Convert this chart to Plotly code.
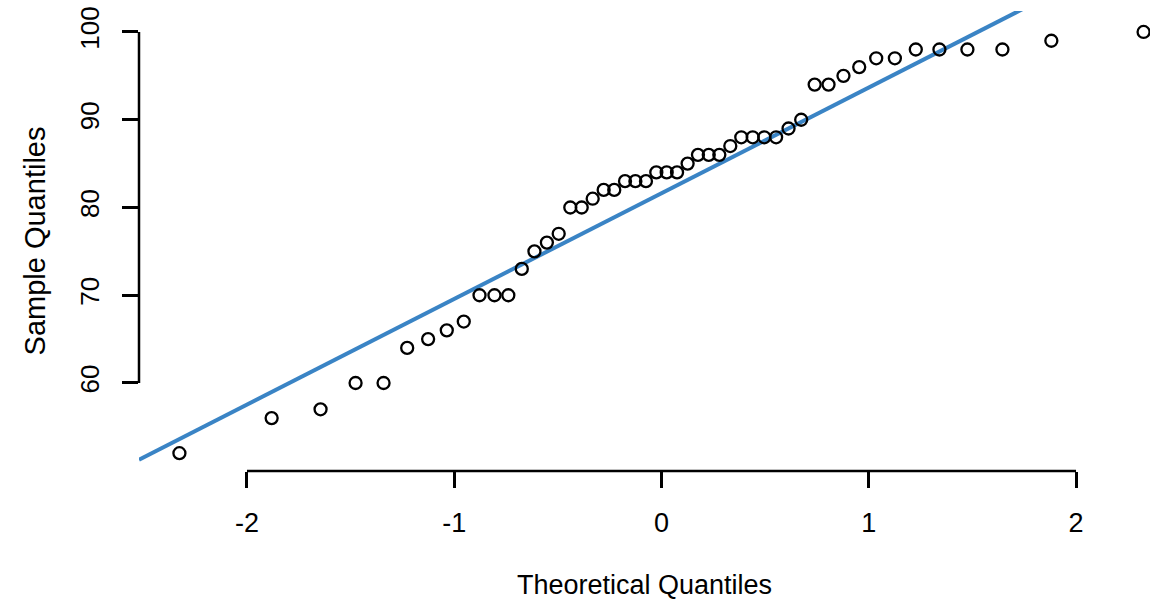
import numpy as np
import plotly.graph_objects as go

# Theoretical quantiles (read from the x positions of the points)
theoretical = [-2.326, -1.881, -1.645, -1.476, -1.341, -1.227, -1.126, -1.036, -0.954, -0.878,
               -0.806, -0.739, -0.674, -0.613, -0.553, -0.496, -0.440, -0.385, -0.332, -0.279,
               -0.228, -0.176, -0.126, -0.075, -0.025, 0.025, 0.075, 0.126, 0.176, 0.228,
               0.279, 0.332, 0.385, 0.440, 0.496, 0.553, 0.613, 0.674, 0.739, 0.806,
               0.878, 0.954, 1.036, 1.126, 1.227, 1.341, 1.476, 1.645, 1.881, 2.326]

# Sample quantiles (read from the y positions of the points)
sample = [52, 56, 57, 60, 60, 64, 65, 66, 67, 70,
          70, 70, 73, 75, 76, 77, 80, 80, 81, 82,
          82, 83, 83, 83, 84, 84, 84, 85, 86, 86,
          86, 87, 88, 88, 88, 88, 89, 90, 94, 94,
          95, 96, 97, 97, 98, 98, 98, 98, 99, 100]

x_ticks = [-2, -1, 0, 1, 2]
y_ticks = [60, 70, 80, 90, 100]
x_range = [-2.521, 2.357]
y_range = [49.97, 102.39]

# qqline through the first and third quartiles
q1, q3 = np.quantile(sample, [0.25, 0.75])
t1, t3 = -0.6744898, 0.6744898
slope = (q3 - q1) / (t3 - t1)
intercept = q1 - slope * t1
line_x = np.array(x_range)
line_y = intercept + slope * line_x

FONT = "Liberation Sans, Arial, sans-serif"

fig = go.Figure()
fig.add_trace(go.Scatter(
    x=line_x, y=line_y, mode="lines",
    line=dict(color="#3a84c5", width=4),
    hoverinfo="skip", showlegend=False,
))
fig.add_trace(go.Scatter(
    x=theoretical, y=sample, mode="markers",
    marker=dict(symbol="circle-open", size=12, color="black", line=dict(width=2.3, color="black")),
    cliponaxis=False, showlegend=False,
))

# R-style axis lines spanning only the tick range
fig.add_shape(type="line", xref="x", yref="paper", x0=x_ticks[0], x1=x_ticks[-1], y0=0, y1=0,
              line=dict(color="black", width=2.5))
fig.add_shape(type="line", xref="paper", yref="y", x0=0, x1=0, y0=y_ticks[0], y1=y_ticks[-1],
              line=dict(color="black", width=2.5))

fig.update_layout(
    width=1150, height=603,
    margin=dict(l=139, r=0, t=11, b=132),
    paper_bgcolor="white", plot_bgcolor="white",
    font=dict(family=FONT, color="black"),
    xaxis=dict(
        range=x_range, tickvals=x_ticks, ticktext=[str(v) for v in x_ticks],
        showgrid=False, zeroline=False, showline=False,
        ticks="outside", ticklen=16, tickwidth=2.5, tickcolor="black",
        tickfont=dict(size=27, family=FONT, color="black"), ticklabelstandoff=12,
        title=dict(text="Theoretical Quantiles", font=dict(size=27, family=FONT, color="black"), standoff=37),
    ),
    yaxis=dict(
        range=y_range, tickvals=y_ticks, ticktext=[str(v) for v in y_ticks],
        showgrid=False, zeroline=False, showline=False,
        ticks="outside", ticklen=16, tickwidth=2.5, tickcolor="black",
        tickangle=-90, tickfont=dict(size=26, family=FONT, color="black"), ticklabelstandoff=13,
        title=dict(text="Sample Quantiles", font=dict(size=29, family=FONT, color="black"), standoff=20),
    ),
)

fig.write_html("out.html")
